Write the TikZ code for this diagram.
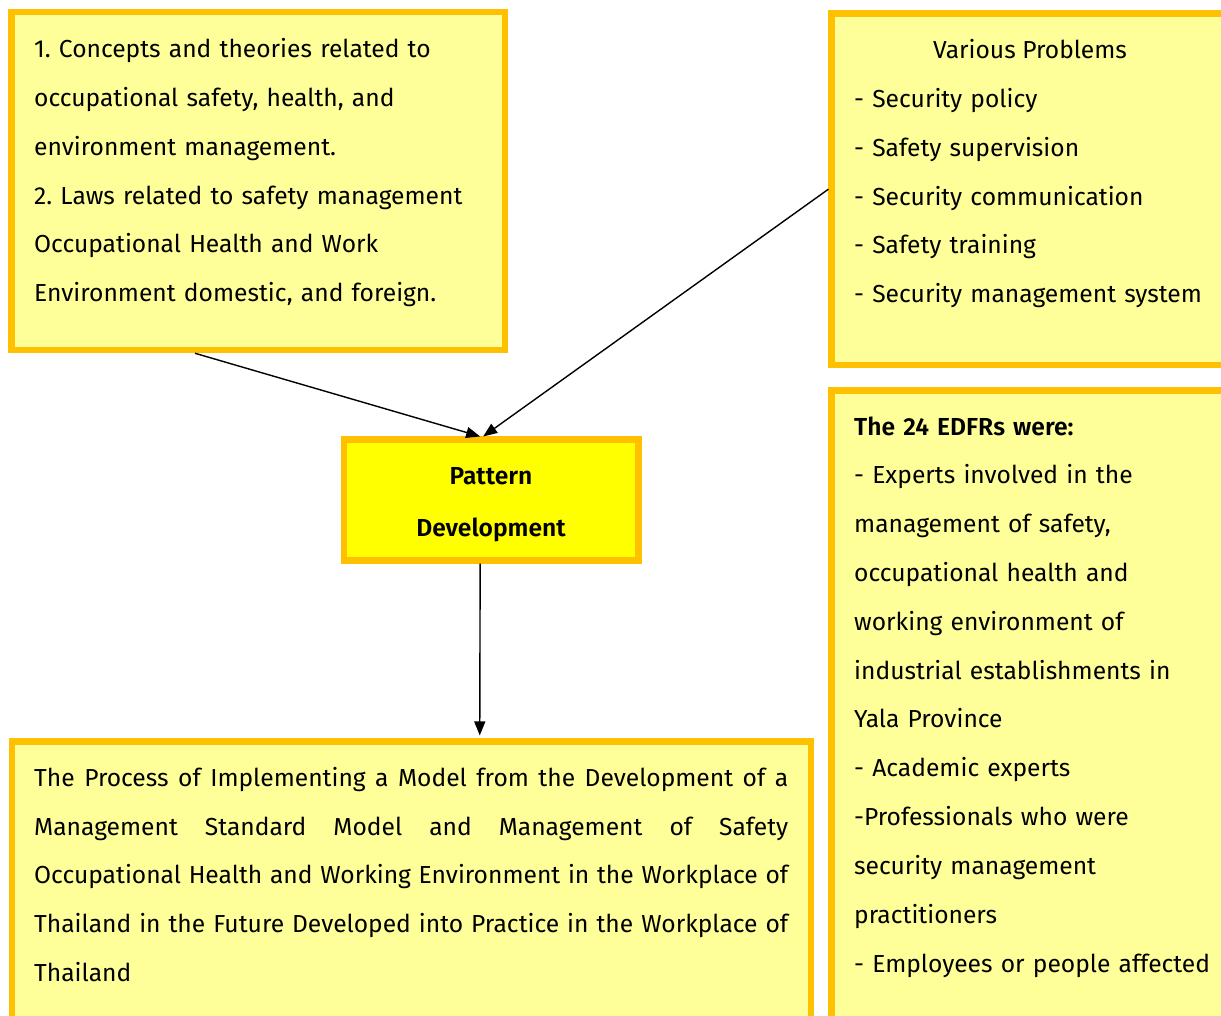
\documentclass[tikz,border=0pt]{standalone}
\usepackage{fontspec}
\setmainfont{Fira Sans}[BoldFont={Fira Sans SemiBold}]
\usetikzlibrary{arrows.meta}
\definecolor{boxborder}{HTML}{FFC000}
\definecolor{boxfill}{HTML}{FFFF99}
\definecolor{corefill}{HTML}{FFFF00}
\frenchspacing
\begin{document}
\begin{tikzpicture}[x=1bp,y=-1bp,
  panel/.style={draw=boxborder, line width=6.5bp, fill=boxfill, inner sep=0pt, rectangle, anchor=north west},
  txt/.style={inner sep=0pt, anchor=north west, align=left, font=\fontsize{24.7}{49}\selectfont},
  conn/.style={line width=1.4bp, -{Triangle[length=14bp,width=11bp]}}]
\useasboundingbox (0,0) rectangle (1221,1016);
\clip (0,0) rectangle (1221,1016);
% boxes
\node[panel, minimum width=493.3bp, minimum height=338bp] (tl) at (8.45,8.75) {};
\node[panel, minimum width=408.3bp, minimum height=351.7bp] (tr) at (828.45,10.05) {};
\node[panel, minimum width=408.3bp, minimum height=649.5bp] (rb) at (828.45,387.25) {};
\node[panel, fill=corefill, minimum width=294.3bp, minimum height=120.6bp] (core) at (340.75,436.45) {};
\node[panel, minimum width=799bp, minimum height=298.3bp] (bot) at (8.75,738.45) {};
% texts
\node[txt, text width=470bp] (tltext) at (34,23.2) {\strut 1. Concepts and theories related to\\
occupational safety, health, and\\
environment management.\\
2. Laws related to safety management\\
Occupational Health and Work\\
Environment domestic, and foreign.};
\node[inner sep=0pt, anchor=base, font=\fontsize{24.7}{49}\selectfont] (trtitle) at (1030,58.3) {Various Problems};
\node[txt, text width=380bp] (trlist) at (854,73) {\strut - Security policy\\
- Safety supervision\\
- Security communication\\
- Safety training\\
- Security management system};
\node[txt, text width=380bp] (rbtext) at (854,400.7) {\strut\textbf{The 24 EDFRs were:}\\
- Experts involved in the\\
management of safety,\\
occupational health and\\
working environment of\\
industrial establishments in\\
Yala Province\\
- Academic experts\\
-Professionals who were\\
security management\\
practitioners\\
- Employees or people affected};
\node[inner sep=0pt, anchor=north, align=center, text width=280bp, font=\fontsize{24.7}{53}\selectfont\bfseries] (coretext) at (491,446.9) {\strut Pattern\\Development};
\node[inner sep=0pt, anchor=north west, align=justify, text width=754bp, font=\fontsize{24.7}{48.8}\selectfont] (bottext) at (34,752.5) {\strut The Process of Implementing a Model from the Development of a\linebreak
Management Standard Model and Management of Safety\linebreak
Occupational Health and Working Environment in the Workplace of\linebreak
Thailand in the Future Developed into Practice in the Workplace of\linebreak
Thailand};
% connectors
\draw[conn] ([xshift=186.5bp]tl.south west) -- ([xshift=-11bp]core.north);
\draw[conn] (tr.west) -- ([xshift=-8bp]core.north);
\draw[conn] ([xshift=-11bp]core.south) -- ([xshift=471bp,yshift=3bp]bot.north west);
\end{tikzpicture}
\end{document}
